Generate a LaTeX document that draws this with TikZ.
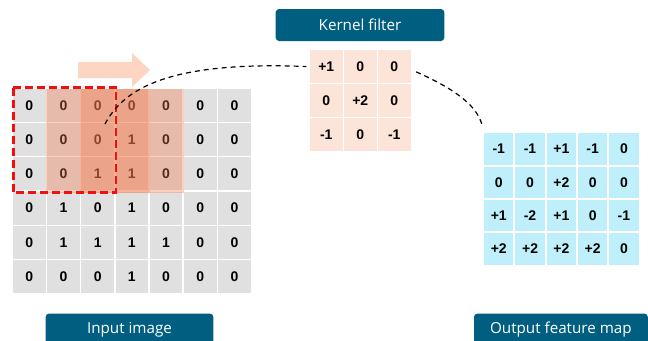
\documentclass[tikz,border=0pt]{standalone}
\usepackage{fontspec}
\setmainfont{Liberation Sans}
\newfontfamily\labelfont{Open Sans}
\definecolor{cellgrey}{HTML}{E0E0E0}
\definecolor{kernelfill}{HTML}{FDE4D9}
\definecolor{outfill}{HTML}{C0EFFC}
\definecolor{windowfill}{HTML}{F5784A}
\definecolor{slidearrow}{HTML}{FDD5C2}
\definecolor{tagfill}{HTML}{005E80}
\definecolor{boxred}{HTML}{F01010}
\tikzset{
  x=0.75pt, y=-0.75pt,
  numtext/.style={font=\fontsize{10.5}{12}\selectfont\bfseries, text=black, inner sep=0pt},
  incell/.style={numtext, fill=cellgrey, minimum width=24.4pt, minimum height=24.75pt},
  kcell/.style={numtext, fill=kernelfill, minimum width=24.4pt, minimum height=24.75pt},
  ocell/.style={numtext, fill=outfill, minimum width=22.1pt, minimum height=23.6pt},
  tag/.style={fill=tagfill, rounded corners=2.5pt, text=white, inner sep=0pt,
    font=\labelfont\fontsize{11.4}{13}\selectfont, minimum height=24pt},
  window/.style={fill=windowfill, fill opacity=0.35},
  stridebox/.style={draw=boxred, line width=1.9pt, dash pattern=on 6pt off 3pt},
  link/.style={draw=black, line width=0.9pt, dash pattern=on 3.75pt off 3pt},
}
\begin{document}
\begin{tikzpicture}
\useasboundingbox (0,0) rectangle (648,340);
\clip (0,0) rectangle (648,340);

% sliding direction arrow
\fill[slidearrow] (78,62) -- (132,62) -- (132,53) -- (150,70) -- (132,87)
  -- (132,78) -- (78,78) -- cycle;

% input image grid
\foreach \row [count=\r from 0] in {{0,0,0,0,0,0,0},{0,0,0,1,0,0,0},{0,0,1,1,0,0,0},
    {0,1,0,1,0,0,0},{0,1,1,1,1,0,0},{0,0,0,1,0,0,0}} {
  \foreach \v [count=\c from 0] in \row {
    \node[incell] (in-\r-\c) at ({13+34.2*\c+16.25},{89+34.2*\r+16.5}) {\v};
  }
}

% two successive positions of the 3x3 window
\fill[window] (45.6,89) rectangle (149.8,192.7);
\fill[window] (79.8,89) rectangle (184,192.7);

% current receptive field
\draw[stridebox] (13.3,87.5) rectangle (116,192.6);

% kernel
\foreach \row [count=\r from 0] in {{+1,0,0},{0,+2,0},{-1,0,-1}} {
  \foreach \v [count=\c from 0] in \row {
    \node[kcell] (k-\r-\c) at ({310+34*\c+16.25},{50+34*\r+16.5}) {\v};
  }
}

% output feature map
\foreach \row [count=\r from 0] in {{-1,-1,+1,-1,0},{0,0,+2,0,0},{+1,-2,+1,0,-1},{+2,+2,+2,+2,0}} {
  \foreach \v [count=\c from 0] in \row {
    \node[ocell] (o-\r-\c) at ({484+31.3*\c+14.75},{133.3+33.3*\r+15.75}) {\v};
  }
}

% labels
\node[tag, minimum width=126.4pt] (kerneltag) at (360,25) {Kernel filter};
\node[tag, minimum width=125.7pt, minimum height=24pt, anchor=north] (inputtag) at (129.5,313.3) {\raisebox{-3.5pt}{Input image}};
\node[tag, minimum width=130.3pt, minimum height=24pt, anchor=north] (outputtag) at (560.9,313.3) {\raisebox{-3.5pt}{Output feature map}};

% dashed connectors
\coordinate (winpick) at (105,124);
\coordinate (outentry) at (482.5,127);
\draw[link] (winpick) .. controls (124,88) and (170,61) .. ([xshift=-2.5pt]k-0-0.west);
\draw[link] ([xshift=4pt,yshift=-4pt]k-0-2.east) .. controls (450,87) and (478,104) .. (outentry);
\end{tikzpicture}
\end{document}
